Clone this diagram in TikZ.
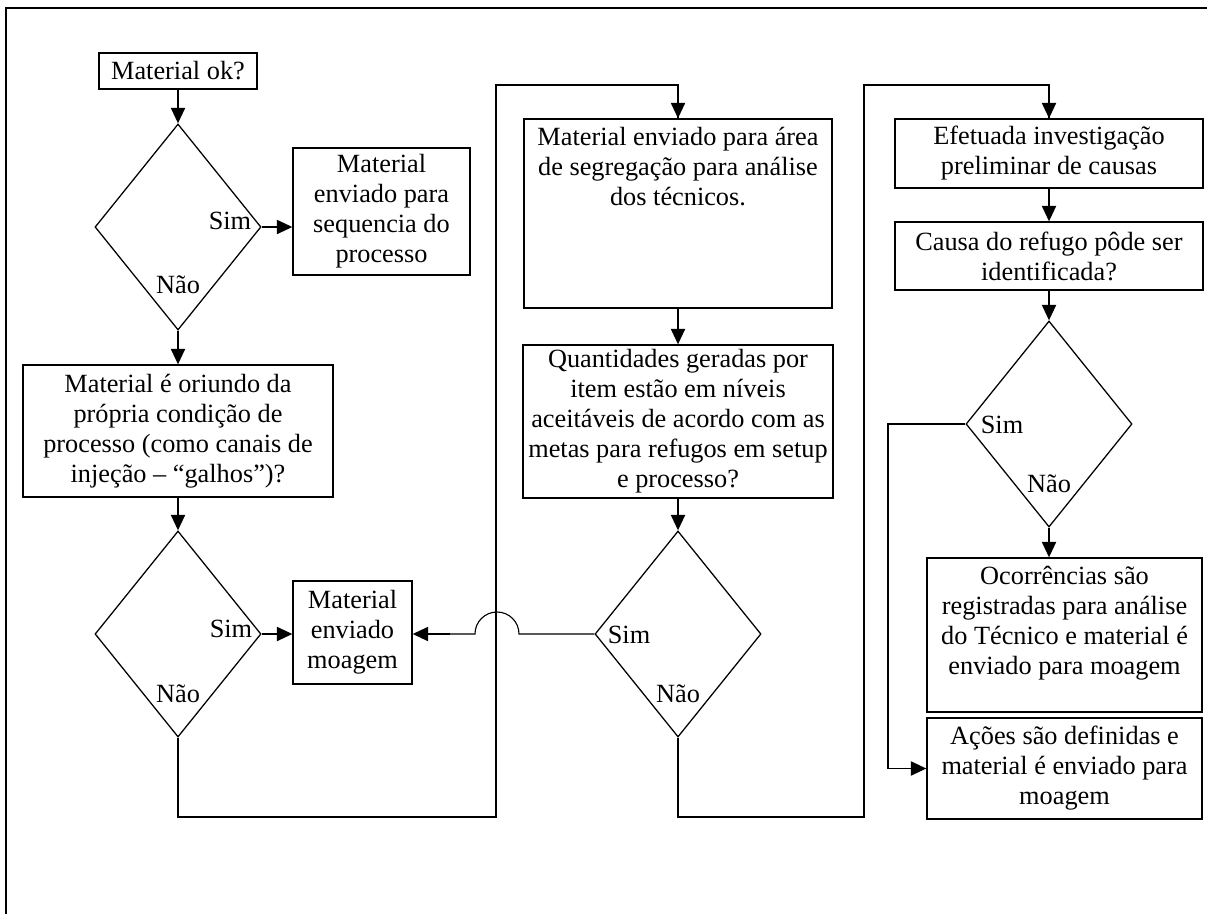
\documentclass[tikz,border=0pt]{standalone}
\usepackage{fontspec}
\setmainfont{Liberation Serif}
\usetikzlibrary{shapes.geometric,arrows.meta}

\begin{document}
\begin{tikzpicture}[x=0.025cm,y=-0.025cm,
    every node/.style={font=\fontsize{18.7}{21.3}\selectfont},
    box/.style={draw,rectangle,line width=0.9pt,align=center,inner sep=2pt},
    decision/.style={draw,diamond,line width=0.9pt,inner sep=0pt,minimum width=4.15cm,minimum height=5.15cm},
    arr/.style={-{Triangle[length=11pt,width=10pt]},line width=1.3pt},
    conn/.style={line width=0.8pt}]
  \useasboundingbox (0,0) rectangle (1207,914);
  % frame
  \draw[line width=0.9pt] (6,914) -- (6,8) -- (1207,8);

  % first column
  \node[box, minimum width=3.95cm, minimum height=0.9cm] (matok) at (178,71) {Material ok?};
  \node[decision] (dok) at (178,227) {};
  \node[box, minimum width=4.425cm, minimum height=3.175cm] (seq) at (381.5,211.5) {Material\\enviado para\\sequencia do\\processo};
  \node[box, minimum width=7.75cm, minimum height=3.3cm] (orig) at (178,431) {Material é oriundo da\\própria condição de\\processo (como canais de\\injeção – “galhos”)?};
  \node[decision] (dorig) at (178,634) {};
  \node[box, minimum width=2.975cm, minimum height=2.575cm] (moag) at (352.5,632.5) {Material\\enviado\\moagem};

  % second column
  \node[box, minimum width=7.7cm, minimum height=4.725cm] (segr) at (678,213.5) {};
  \node[anchor=north, align=center, inner sep=6pt] (segrtxt) at (segr.north) {Material enviado para área\\de segregação para análise\\dos técnicos.};
  \node[box, minimum width=7.75cm, minimum height=3.825cm] (quant) at (678,421.5) {Quantidades geradas por\\item estão em níveis\\aceitáveis de acordo com as\\metas para refugos em setup\\e processo?};
  \node[decision] (dquant) at (678,634) {};

  % third column
  \node[box, minimum width=7.7cm, minimum height=1.725cm] (invest) at (1049,153.5) {Efetuada investigação\\preliminar de causas};
  \node[box, minimum width=7.7cm, minimum height=1.7cm] (causa) at (1049,256) {Causa do refugo pôde ser\\identificada?};
  \node[decision] (dcausa) at (1049,424) {};
  \node[box, minimum width=6.875cm, minimum height=3.85cm] (ocorr) at (1064.5,635) {};
  \node[anchor=north, align=center, inner sep=6pt] (ocorrtxt) at (ocorr.north) {Ocorrências são\\registradas para análise\\do Técnico e material é\\enviado para moagem};
  \node[box, minimum width=6.875cm, minimum height=2.525cm] (acoes) at (1064.5,768.5) {Ações são definidas e\\material é enviado para\\moagem};

  % answers
  \node[anchor=base] (dok-sim) at (230,229) {Sim};
  \node[anchor=base] (dok-nao) at (178,293) {Não};
  \node[anchor=base] (dorig-sim) at (231,637) {Sim};
  \node[anchor=base] (dorig-nao) at (178,702) {Não};
  \node[anchor=base] (dquant-sim) at (629,643) {Sim};
  \node[anchor=base] (dquant-nao) at (678,702) {Não};
  \node[anchor=base] (dcausa-sim) at (1002,433) {Sim};
  \node[anchor=base] (dcausa-nao) at (1049,492) {Não};

  % helper points for the long returns
  \coordinate (c1b) at (496,817);
  \coordinate (c1t) at (496,85);
  \coordinate (c2b) at (864,817);
  \coordinate (c2t) at (864,85);
  \coordinate (c3) at (888,0);

  % connectors
  \draw[arr] (matok.south) -- (dok.north);
  \draw[arr] (dok.east) -- (dok.east -| seq.west);
  \draw[arr] (dok.south) -- (orig.north);
  \draw[arr] (orig.south) -- (dorig.north);
  \draw[arr] (dorig.east) -- (dorig.east -| moag.west);
  \draw[conn] (dorig.south) |- (c1b) -- (c1t) -| (segr.north);
  \draw[arr] (c1t -| segr.north) -- (segr.north);
  \draw[arr] (segr.south) -- (quant.north);
  \draw[arr] (quant.south) -- (dquant.north);
  \draw[conn] (dquant.west) -- (519,634) arc[start angle=0,end angle=180,radius=0.55cm] -- (450,634);
  \draw[arr] (450,634) -- (moag.east |- dquant.west);
  \draw[conn] (dquant.south) |- (c2b) -- (c2t) -| (invest.north);
  \draw[arr] (c2t -| invest.north) -- (invest.north);
  \draw[arr] (invest.south) -- (causa.north);
  \draw[arr] (causa.south) -- (dcausa.north);
  \draw[arr] (dcausa.south) -- (dcausa.south |- ocorr.north);
  \draw[conn] (dcausa.west) -| (c3 |- acoes.west) -- (910,768.5);
  \draw[arr] (910,768.5) -- (acoes.west);
\end{tikzpicture}
\end{document}
